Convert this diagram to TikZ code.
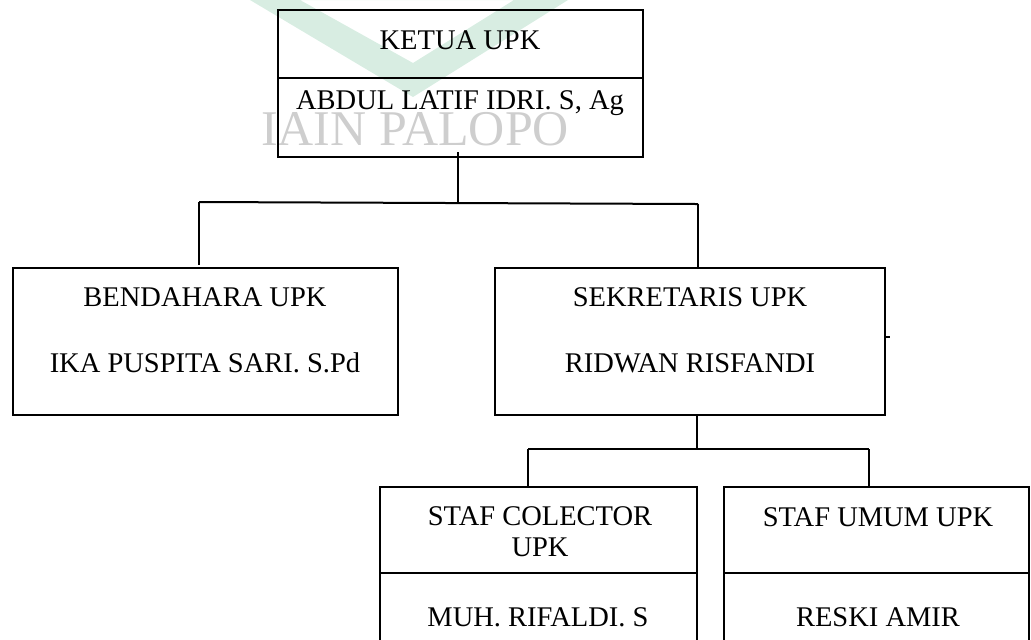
\documentclass[tikz,border=0pt]{standalone}
\usepackage{fontspec}
\setmainfont{Liberation Serif}
\usetikzlibrary{positioning}
\definecolor{hijauwm}{RGB}{216,237,226}
\definecolor{abuwm}{RGB}{206,206,206}
\tikzset{
  kotak/.style={draw,line width=1pt,rectangle,inner sep=0pt},
  teks/.style={inner sep=0pt,align=center,font=\fontsize{14.25}{15.5}\selectfont},
  garis/.style={line width=1pt}
}
\begin{document}
\begin{tikzpicture}[x=0.5pt,y=-0.5pt]
\useasboundingbox (0,0) rectangle (1031,639);
\clip (0,0) rectangle (1031,639);

% watermark
\fill[hijauwm,even odd rule] (250,0) -- (413,97) -- (568,0) -- cycle
  (300,0) -- (413,63) -- (514,0) -- cycle;
\node[text=abuwm,inner sep=0pt,anchor=base,font=\fontsize{25}{30}\selectfont] (wmteks) at (415,145) {IAIN PALOPO};

% kotak jabatan
\node[kotak,minimum width=182.5pt,minimum height=73.5pt] (ketua) at (460.5,83.5) {};
\draw[garis] (278,78) -- (643,78);
\node[teks] (ketuaJab) at (460,40) {KETUA UPK};
\node[teks] (ketuaNama) at (460,103) {ABDUL LATIF IDRI. S, Ag};

\node[kotak,minimum width=192.5pt,minimum height=73.5pt] (bendahara) at (205.5,341.5) {};
\node[teks] (bendaharaJab) at (205,297) {BENDAHARA UPK};
\node[teks] (bendaharaNama) at (205,363) {IKA PUSPITA SARI. S.Pd};

\node[kotak,minimum width=195pt,minimum height=73.5pt] (sekretaris) at (690,341.5) {};
\node[teks] (sekretarisJab) at (690,297) {SEKRETARIS UPK};
\node[teks] (sekretarisNama) at (690,363) {RIDWAN RISFANDI};

\node[kotak,minimum width=158.5pt,minimum height=90pt] (kolektor) at (538.5,577) {};
\draw[garis] (380,573) -- (697,573);
\node[teks] (kolektorJab) at (540,532) {STAF COLECTOR\\UPK};
\node[teks] (kolektorNama) at (538,617) {MUH. RIFALDI. S};

\node[kotak,minimum width=152.5pt,minimum height=90pt] (umum) at (876.5,577) {};
\draw[garis] (724,573) -- (1029,573);
\node[teks] (umumJab) at (878,517) {STAF UMUM UPK};
\node[teks] (umumNama) at (878,617) {RESKI AMIR};

% garis penghubung
\coordinate (ketuaBawah) at (458,152);
\coordinate (cabangA) at (458,203);
\coordinate (kiriA) at (199,202);
\coordinate (kananA) at (698,204);
\coordinate (kiriUjung) at (199,265);
\draw[garis] (ketuaBawah) -- (cabangA);
\draw[garis] (kiriA) -- (kananA);
\draw[garis] (kiriA) -- (kiriUjung);
\draw[garis] (kananA) -- (kananA |- sekretaris.north);

\coordinate (cabangB) at (697,449);
\coordinate (kiriB) at (528,449);
\coordinate (kananB) at (869,449);
\draw[garis] (sekretaris.south -| cabangB) -- (cabangB);
\draw[garis] (kiriB) -- (kananB);
\draw[garis] (kiriB) -- (kiriB |- kolektor.north);
\draw[garis] (kananB) -- (kananB |- umum.north);

\coordinate (tanda) at (890,337);
\draw[garis] (sekretaris.east |- tanda) -- (tanda);
\end{tikzpicture}
\end{document}
